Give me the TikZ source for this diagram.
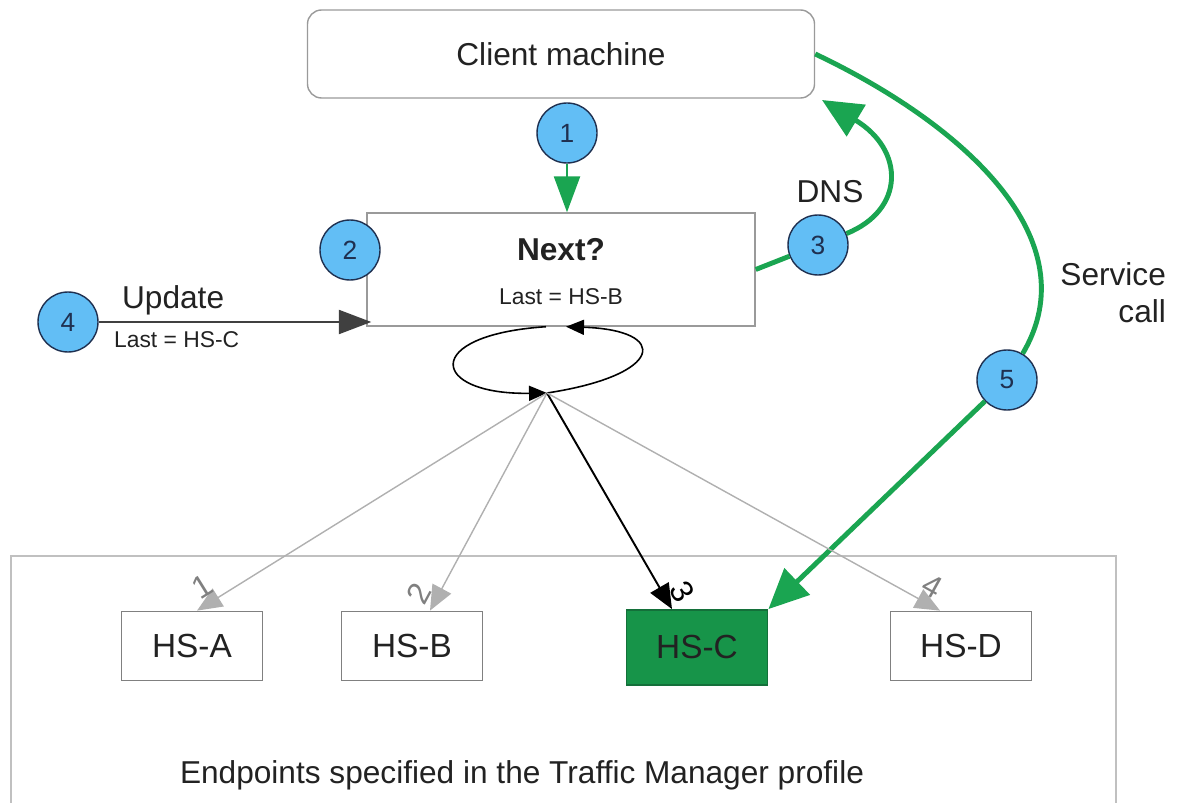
\documentclass[tikz,border=0pt]{standalone}
\usepackage{fontspec}
\setmainfont{Liberation Sans}
\usetikzlibrary{arrows.meta,positioning,calc}
\usepackage{xcolor}
\definecolor{ok}{HTML}{1AA551}
\definecolor{okdark}{HTML}{14703A}
\definecolor{bubble}{HTML}{62BEF5}
\definecolor{ink}{HTML}{1F3050}
\definecolor{frame}{HTML}{9A9A9A}
\definecolor{faint}{HTML}{B0B0B0}
\definecolor{textc}{HTML}{222222}
\tikzset{
  base/.style={draw=frame,line width=0.8pt,fill=white,align=center,text=textc,font=\fontsize{18}{21}\selectfont},
  machine/.style={base,rounded corners=8pt,minimum width=10.14cm,minimum height=1.76cm},
  router/.style={base,minimum width=7.76cm,minimum height=2.26cm},
  endpoint/.style={base,draw=gray,line width=1pt,minimum width=2.82cm,minimum height=1.38cm,font=\fontsize{19}{22}\selectfont},
  chosen/.style={endpoint,fill=ok!90!black,draw=okdark,minimum height=1.5cm},
  badge/.style={circle,draw=ink,line width=0.8pt,fill=bubble,text=ink,minimum size=1.2cm,inner sep=0pt,font=\fontsize{15}{18}\selectfont},
  caption/.style={text=textc,inner sep=1pt,font=\fontsize{18}{21}\selectfont},
  fine/.style={caption,font=\fontsize{13}{15}\selectfont},
  region/.style={draw=faint!80,line width=0.9pt},
  push/.style={-{Triangle[length=6.5mm,width=4.8mm]},line width=1.3pt,draw=black!75},
  spin/.style={-{Triangle[length=3.6mm,width=3mm]},line width=0.9pt,draw=black},
  pick/.style={-{Triangle[length=5mm,width=4.2mm]},line width=0.8pt,draw=faint,text=gray},
  picked/.style={pick,draw=black,text=black,line width=1.1pt},
  signal/.style={line width=2.8pt,draw=ok},
  hint/.style={-{Triangle[length=7.2mm,width=5.2mm]},line width=1.4pt,draw=ok},
  every node/.style={font=\fontsize{18}{21}\selectfont}
}
\begin{document}
\begin{tikzpicture}
\useasboundingbox (0,0) rectangle (23.62,-16.06);

% endpoint area
\node[region,anchor=north west,minimum width=22.1cm,minimum height=5.4cm] (profile) at (0.2,-11.1) {};
\node[caption] (profilename) at (10.44,-15.5) {Endpoints specified in the Traffic Manager profile};

\node[machine] (client) at (11.22,-1.08) {Client machine};
\node[router] (next) at (11.22,-5.39) {};
\node[caption] (nexttitle) at (11.22,-5.0) {\bfseries Next?};
\node[fine] (lastb) at (11.22,-5.94) {Last = HS-B};

\node[endpoint] (hsa) at (3.84,-12.92) {HS-A};
\node[endpoint] (hsb) at (8.24,-12.92) {HS-B};
\node[chosen] (hsc) at (13.94,-12.95) {HS-C};
\node[endpoint] (hsd) at (19.22,-12.92) {HS-D};

\node[badge] (m1) at (11.34,-2.66) {1};
\node[badge] (m2) at (7.0,-5.0) {2};
\node[badge] (m3) at (16.36,-4.9) {3};
\node[badge] (m4) at (1.36,-6.44) {4};
\node[badge] (m5) at (20.14,-7.6) {5};

\coordinate (hub) at (10.94,-7.86);
\coordinate (dnsend) at (16.44,-2.0);

\node[caption,anchor=west] (update) at (2.4,-6.0) {Update};
\node[fine,anchor=west] (lastc) at (2.24,-6.8) {Last = HS-C};
\node[caption] (dns) at (16.6,-3.84) {DNS};
\node[caption,anchor=east,align=right] (svc) at (23.36,-5.85) {Service\\call};

% request, update and answer
\draw[hint] (m1) -- (m1 |- next.north);
\draw[push] (m4) -- ([xshift=1mm]m4 -| next.west);
\draw[signal] (next.east) -- (m3);
\draw[signal,-{Triangle[length=8mm,width=7.2mm]}] (m3) .. controls (18.1,-4.2) and (18.1,-3.0) .. (dnsend);
\draw[signal] (client.east) .. controls (19.3,-2.5) and (21.8,-4.8) .. (m5);
\draw[signal,-{Triangle[length=8mm,width=7.2mm]}] (m5) -- (hsc.north east);

% round robin
\draw[spin] (hub) .. controls (13.3,-7.5) and (13.4,-6.6) .. ([xshift=1mm]next.south);
\draw[spin] ([xshift=-3mm]next.south) .. controls (8.4,-6.7) and (8.6,-7.9) .. (hub);
\draw[pick] (hub) -- node[pos=0.96,sloped,above]{1} ([xshift=1mm]hsa.north);
\draw[pick] (hub) -- node[pos=0.96,sloped,above]{2} ([xshift=3.6mm]hsb.north);
\draw[picked] (hub) -- node[pos=0.96,sloped,above]{3} ([xshift=-5mm]hsc.north);
\draw[pick] (hub) -- node[pos=0.96,sloped,above]{4} ([xshift=-4.2mm]hsd.north);
\end{tikzpicture}
\end{document}
